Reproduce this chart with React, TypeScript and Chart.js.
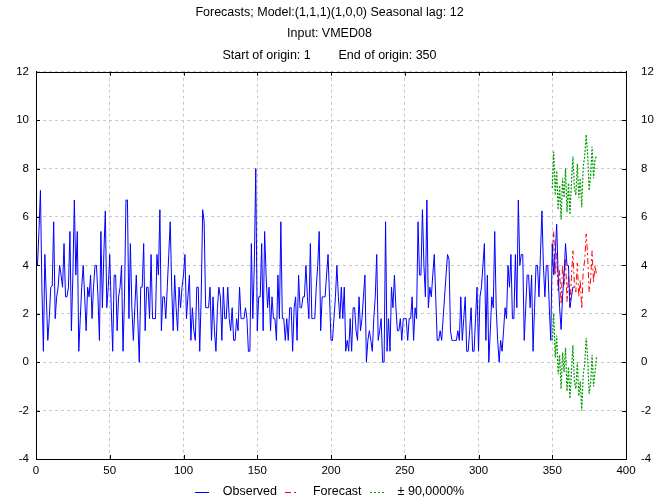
import React, { useEffect, useRef } from 'react';
import { Chart, registerables } from 'chart.js';

Chart.register(...registerables);

const titleLines = [
  'Forecasts; Model:(1,1,1)(1,0,0) Seasonal lag: 12',
  'Input: VMED08',
  'Start of origin: 1        End of origin: 350',
];

const xMin = 0;
const xMax = 400;
const xStep = 50;
const yMin = -4;
const yMax = 12;
const yStep = 2;

const legendLabels = ['Observed', 'Forecast', '\u00B1 90,0000%'];

// Observed series, one value per origin (starting at x = 0)
const observed = [
  4.0, 4.0, 5.4, 7.1, 3.1, 0.45, 4.45, 2.7, 0.9, 1.8,
  3.1, 3.15, 5.8, 1.8, 2.7, 3.1, 4.0, 3.6, 3.1, 4.9,
  2.7, 2.7, 3.1, 5.4, 1.3, 3.6, 6.7, 3.6, 5.4, 0.45,
  1.8, 3.1, 4.0, 2.7, 1.3, 3.1, 2.7, 3.6, 1.8, 3.1,
  4.0, 4.0, 2.7, 0.9, 5.4, 2.25, 4.5, 6.25, 2.25, 3.1,
  4.45, 2.25, 0.45, 3.6, 3.6, 1.3, 2.7, 3.1, 4.0, 0.45,
  2.7, 6.7, 6.7, 1.8, 4.9, 2.25, 0.9, 2.25, 3.6, 1.8,
  0.0, 3.1, 3.1, 4.9, 1.3, 3.1, 3.1, 1.8, 4.45, 1.8,
  1.8, 1.8, 4.45, 3.6, 6.3, 1.3, 2.7, 2.7, 1.8, 3.1,
  4.45, 5.8, 3.1, 1.3, 3.6, 2.25, 1.3, 3.1, 2.25, 3.1,
  3.6, 4.45, 1.8, 2.7, 3.6, 0.9, 2.25, 1.3, 0.9, 3.1,
  3.1, 0.45, 2.7, 6.3, 5.8, 2.25, 2.25, 2.25, 3.1, 0.9,
  2.7, 1.3, 0.45, 2.25, 3.1, 2.7, 0.9, 3.1, 1.8, 1.8,
  3.1, 1.8, 1.3, 2.25, 0.9, 0.9, 1.8, 1.3, 3.1, 1.8,
  1.8, 1.8, 2.25, 1.8, 0.45, 0.45, 4.9, 1.8, 4.0, 8.0,
  1.3, 2.7, 2.7, 4.9, 1.3, 5.4, 3.6, 2.25, 3.1, 1.3,
  2.7, 1.8, 1.8, 0.9, 3.6, 1.8, 5.8, 1.8, 1.8, 0.9,
  1.8, 0.9, 2.25, 2.25, 0.45, 2.25, 2.7, 0.9, 3.6, 2.25,
  2.25, 2.7, 2.7, 4.0, 2.7, 1.8, 4.9, 1.8, 1.8, 1.8,
  3.1, 4.0, 5.4, 1.3, 2.7, 2.7, 2.7, 3.6, 4.45, 2.7,
  0.9, 0.9, 1.8, 2.7, 4.0, 2.7, 1.8, 3.1, 1.8, 3.1,
  0.45, 0.9, 0.45, 1.8, 0.45, 2.25, 2.25, 1.3, 0.9, 2.7,
  1.3, 1.8, 2.7, 3.6, 0.0, 0.9, 1.3, 0.9, 0.45, 1.8,
  2.7, 4.45, 0.9, 1.3, 1.8, 0.0, 0.0, 5.8, 0.45, 1.8,
  0.45, 3.1, 2.25, 3.6, 2.25, 1.3, 1.3, 1.8, 0.9, 1.8,
  1.8, 1.8, 0.9, 1.8, 1.8, 2.7, 0.9, 2.25, 1.8, 5.8,
  3.6, 3.6, 6.3, 4.0, 2.7, 6.7, 2.25, 3.1, 2.7, 3.6,
  4.45, 2.7, 0.9, 0.9, 1.3, 0.9, 1.8, 2.7, 3.6, 4.45,
  4.25, 1.3, 0.9, 0.9, 0.9, 0.9, 1.3, 0.9, 2.7, 0.9,
  1.8, 2.7, 0.45, 0.45, 1.3, 2.25, 0.45, 0.45, 1.8, 3.1,
  0.45, 2.7, 3.1, 4.0, 4.9, 0.9, 3.6, 0.0, 1.3, 2.7,
  2.25, 5.4, 2.25, 0.9, 0.0, 0.9, 0.45, 1.3, 2.25, 1.8,
  4.0, 3.1, 4.45, 1.8, 1.8, 4.45, 2.25, 6.7, 4.0, 4.45,
  4.45, 0.9, 2.25, 3.6, 3.6, 2.25, 3.6, 0.45, 2.25, 4.0,
  4.0, 2.7, 4.45, 6.25, 4.0, 2.7, 4.0, 4.0, 2.25, 0.9,
  4.9, 3.6, 4.45, 5.7, 3.6, 2.25, 1.35, 2.7, 3.6, 4.9,
  4.0, 4.0, 2.25, 2.7, 3.1, 3.1,
];

const forecastStart = 350;
const forecast = [
  4.0, 5.4, 3.6, 4.5, 2.9, 3.8, 2.4, 4.0, 3.2, 4.3,
  2.5, 3.6, 2.3, 3.5, 4.6, 3.2, 2.9, 4.1, 2.7, 3.4,
  2.2, 3.8, 4.2, 5.3, 4.4, 2.9, 3.4, 4.6, 3.3, 4.0,
  3.6,
];
const upper90 = [
  7.2, 8.7, 6.9, 7.9, 6.3, 7.3, 5.9, 7.6, 6.8, 8.0,
  6.2, 7.4, 6.1, 7.4, 8.5, 7.2, 6.9, 8.2, 6.8, 7.6,
  6.4, 8.1, 8.5, 9.4, 8.6, 7.1, 7.7, 8.9, 7.6, 8.4,
  8.5,
];
const lower90 = [
  0.9, 2.0, 0.2, 1.1, -0.5, 0.3, -1.1, 0.4, -0.4, 0.6,
  -1.2, -0.2, -1.5, -0.4, 0.7, -0.8, -1.1, 0.0, -1.4, -0.8,
  -2.0, -0.5, -0.1, 1.0, 0.2, -1.3, -0.9, 0.3, -1.0, -0.4,
  0.2,
];

const FONT = '"Liberation Sans", Arial, sans-serif';
const GREEN = '#009a00';

const framePlugin = {
  id: 'frameAndLegend',
  afterDraw(chart: any) {
    const { ctx, chartArea } = chart;
    const { left, right, top, bottom } = chartArea;
    ctx.save();
    ctx.strokeStyle = '#000';
    ctx.lineWidth = 1;
    ctx.setLineDash([]);
    ctx.strokeRect(Math.round(left) + 0.5, Math.round(top) + 0.5, Math.round(right - left), Math.round(bottom - top));
    // inner tick marks
    const ys = chart.scales.y;
    const xs = chart.scales.x;
    ctx.beginPath();
    for (let v = yMin; v <= yMax; v += yStep) {
      const py = Math.round(ys.getPixelForValue(v)) + 0.5;
      ctx.moveTo(left, py);
      ctx.lineTo(left + 4, py);
      ctx.moveTo(right, py);
      ctx.lineTo(right - 4, py);
    }
    for (let v = xMin; v <= xMax; v += xStep) {
      const px = Math.round(xs.getPixelForValue(v)) + 0.5;
      ctx.moveTo(px, bottom);
      ctx.lineTo(px, bottom - 4);
      ctx.moveTo(px, top);
      ctx.lineTo(px, top + 4);
    }
    ctx.stroke();

    // legend
    ctx.font = '12.5px ' + FONT;
    ctx.textBaseline = 'middle';
    ctx.fillStyle = '#000';
    const styles = [
      { color: '#0000ff', dash: [] as number[], width: 1 },
      { color: '#ff0000', dash: [6, 3, 2, 3], width: 1 },
      { color: GREEN, dash: [2, 2], width: 1 },
    ];
    const lineLen = 14;
    const gap = 14;
    const itemGap = 8;
    const widths = legendLabels.map((t) => ctx.measureText(t).width);
    const total = widths.reduce((a, w) => a + lineLen + gap + w, 0) + itemGap * (legendLabels.length - 1);
    let x = (chart.width - total) / 2;
    const y = 492;
    legendLabels.forEach((t, i) => {
      const s = styles[i];
      ctx.beginPath();
      ctx.strokeStyle = s.color;
      ctx.lineWidth = s.width;
      ctx.setLineDash(s.dash);
      ctx.moveTo(Math.round(x), y + 0.5);
      ctx.lineTo(Math.round(x) + lineLen, y + 0.5);
      ctx.stroke();
      ctx.setLineDash([]);
      ctx.fillText(t, x + lineLen + gap, y);
      x += lineLen + gap + widths[i] + itemGap;
    });
    ctx.restore();
  },
};

export default function App() {
  const ref = useRef<HTMLCanvasElement | null>(null);
  useEffect(() => {
    if (!ref.current) return;
    const obsPts = observed.map((v, i) => ({ x: i, y: v }));
    const fcPts = forecast.map((v, i) => ({ x: forecastStart + i, y: v }));
    const upPts = upper90.map((v, i) => ({ x: forecastStart + i, y: v }));
    const loPts = lower90.map((v, i) => ({ x: forecastStart + i, y: v }));
    const grid = {
      color: '#c8c8c8',
      lineWidth: 1,
      drawTicks: false,
    };
    const tickFont = { family: FONT, size: 11.5 };
    const chart = new Chart(ref.current, {
      type: 'line',
      data: {
        datasets: [
          { label: legendLabels[0], data: obsPts, borderColor: '#0000ff', borderWidth: 1, pointRadius: 0, tension: 0, fill: false },
          { label: legendLabels[1], data: fcPts, borderColor: '#ff0000', borderWidth: 1, borderDash: [6, 3, 2, 3], pointRadius: 0, tension: 0, fill: false },
          { label: legendLabels[2], data: upPts, borderColor: GREEN, borderWidth: 1.2, borderDash: [2, 1.5], pointRadius: 0, tension: 0, fill: false },
          { label: legendLabels[2] + ' ', data: loPts, borderColor: GREEN, borderWidth: 1.2, borderDash: [2, 1.5], pointRadius: 0, tension: 0, fill: false },
        ],
      },
      options: {
        responsive: false,
        animation: false,
        layout: { padding: { left: 0, right: 0, top: 0, bottom: 0 } },
        plugins: {
          legend: { display: false },
          tooltip: { enabled: false },
          title: {
            display: true,
            text: titleLines,
            color: '#000',
            font: { family: FONT, size: 12.5, weight: 'normal', lineHeight: 1.7 },
            padding: { top: 2, bottom: 6 },
          },
        },
        scales: {
          x: {
            type: 'linear',
            min: xMin,
            max: xMax,
            ticks: { stepSize: xStep, color: '#000', font: tickFont, padding: 5, maxRotation: 0 },
            grid: { ...grid },
            border: { display: true, color: '#000', dash: [3, 3] },
            afterFit: (s: any) => { s.height = 41; },
          },
          y: {
            position: 'left',
            min: yMin,
            max: yMax,
            ticks: { stepSize: yStep, color: '#000', font: tickFont, padding: 7 },
            grid: { ...grid },
            border: { display: true, color: '#000', dash: [3, 3] },
            afterFit: (s: any) => { s.width = 36; },
          },
          y2: {
            position: 'right',
            min: yMin,
            max: yMax,
            ticks: { stepSize: yStep, color: '#000', font: tickFont, padding: 7 },
            grid: { display: false },
            border: { display: true, color: '#000' },
            afterFit: (s: any) => { s.width = 33; },
          },
        },
      },
      plugins: [framePlugin],
    } as any);
    return () => chart.destroy();
  }, []);
  return (
    <div style={{ position: 'fixed', left: 0, top: 0, width: 659, height: 500, background: '#fff' }}>
      <canvas ref={ref} width={659} height={500} style={{ display: 'block' }} />
    </div>
  );
}
